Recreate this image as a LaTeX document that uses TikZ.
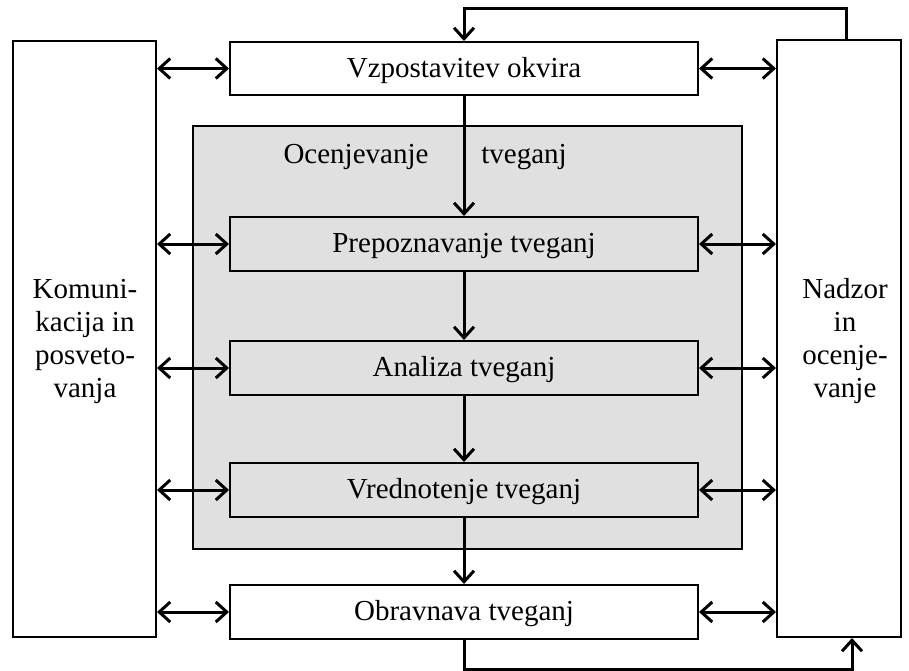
\documentclass[tikz,border=0pt]{standalone}
\usepackage{fontspec}
\setmainfont{Liberation Serif}
\usetikzlibrary{arrows.meta}
\begin{document}
\begin{tikzpicture}[x=1pt,y=-1pt,
  box/.style={draw, line width=2pt, inner sep=0pt, anchor=north west},
  lbl/.style={font=\fontsize{29}{33}\selectfont, align=center},
  arr/.style={line width=3pt, -{Straight Barb[length=11pt,width=20pt,line width=3pt]}},
  barr/.style={line width=3pt, {Straight Barb[length=11pt,width=20pt,line width=3pt]}-{Straight Barb[length=11pt,width=20pt,line width=3pt]}}]
\useasboundingbox (0,0) rectangle (909,671);
% outer boxes
\node[box, minimum width=143pt, minimum height=596pt] (kom) at (12,40) {};
\node[box, minimum width=124pt, minimum height=597pt] (nad) at (776,39) {};
\node[lbl] at (85,341) {Komuni-\\kacija in\\posveto-\\vanja};
\node[lbl] at (845,341) {Nadzor\\in\\ocenje-\\vanje};
% gray region
\node[box, fill=black!12, minimum width=549pt, minimum height=423pt] (oc) at (192,125) {};
\node[lbl] (oct1) at (356,157) {Ocenjevanje};
\node[lbl] (oct2) at (524,157) {tveganj};
% step boxes
\node[box, fill=white, minimum width=468pt, minimum height=53pt] (vz) at (229,41) {};
\node[lbl, yshift=-2pt] at (vz.center) {Vzpostavitev okvira};
\node[box, minimum width=468pt, minimum height=54pt] (pr) at (229,216) {};
\node[lbl, yshift=-2pt] at (pr.center) {Prepoznavanje tveganj};
\node[box, minimum width=468pt, minimum height=54pt] (an) at (229,340) {};
\node[lbl, yshift=-2pt] at (an.center) {Analiza tveganj};
\node[box, minimum width=468pt, minimum height=54pt] (vr) at (229,462) {};
\node[lbl, yshift=-2pt] at (vr.center) {Vrednotenje tveganj};
\node[box, fill=white, minimum width=468pt, minimum height=54pt] (ob) at (229,584) {};
\node[lbl, yshift=-2pt] at (ob.center) {Obravnava tveganj};
% vertical flow
\draw[arr] (vz.south) -- (pr.north);
\draw[arr] (pr.south) -- (an.north);
\draw[arr] (an.south) -- (vr.north);
\draw[arr] (vr.south) -- (ob.north);
% horizontal double arrows
\foreach \n in {vz,pr,an,vr,ob}{
  \draw[barr] (kom.east |- \n.west) -- (\n.west);
  \draw[barr] (\n.east) -- (nad.west |- \n.east);
}
% feedback loops
\coordinate (t1) at (846,9);
\draw[arr] (nad.north -| t1) -- (t1) -- (vz.north |- t1) -- (vz.north);
\coordinate (b1) at (852,669);
\draw[arr] (ob.south) -- (ob.south |- b1) -- (b1) -- (nad.south -| b1);
\end{tikzpicture}
\end{document}
